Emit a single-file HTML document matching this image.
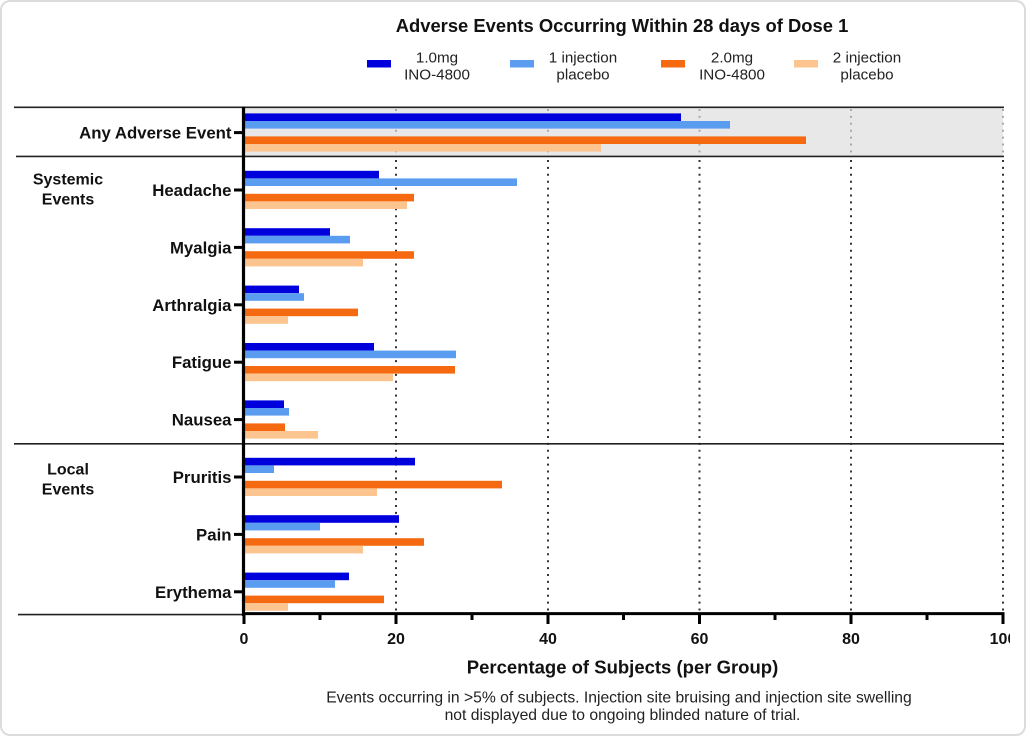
<!DOCTYPE html>
<html><head><meta charset="utf-8"><style>
html,body{margin:0;padding:0;background:#fff;}
svg{display:block;}
text{font-family:"Liberation Sans",Arial,sans-serif;}
</style></head><body>
<svg width="1029" height="738" viewBox="0 0 1029 738" xmlns="http://www.w3.org/2000/svg">
<defs><clipPath id="clipr"><rect x="0" y="0" width="1010" height="738"/></clipPath></defs>
<rect x="0" y="0" width="1029" height="738" fill="#fff"/>
<rect x="1" y="1" width="1024" height="734" rx="9" fill="#fff" stroke="#dcdcdc" stroke-width="2"/>

<!-- title -->
<text x="622" y="32" font-size="18.4" font-weight="bold" text-anchor="middle" fill="#111">Adverse Events Occurring Within 28 days of Dose 1</text>

<!-- legend -->
<rect x="367" y="60" width="24" height="7.5" fill="#0000dd"/>
<text x="437" y="62.5" font-size="15.2" text-anchor="middle" fill="#222">1.0mg</text>
<text x="437" y="79.5" font-size="15.2" text-anchor="middle" fill="#222">INO-4800</text>
<rect x="510" y="60" width="24" height="7.5" fill="#5a9cf0"/>
<text x="583" y="62.5" font-size="15.2" text-anchor="middle" fill="#222">1 injection</text>
<text x="583" y="79.5" font-size="15.2" text-anchor="middle" fill="#222">placebo</text>
<rect x="661" y="60" width="24" height="7.5" fill="#f56a10"/>
<text x="732" y="62.5" font-size="15.2" text-anchor="middle" fill="#222">2.0mg</text>
<text x="732" y="79.5" font-size="15.2" text-anchor="middle" fill="#222">INO-4800</text>
<rect x="794" y="60" width="24" height="7.5" fill="#fcc48e"/>
<text x="867" y="62.5" font-size="15.2" text-anchor="middle" fill="#222">2 injection</text>
<text x="867" y="79.5" font-size="15.2" text-anchor="middle" fill="#222">placebo</text>

<!-- gray band -->
<rect x="245" y="108" width="758" height="47.5" fill="#e8e8e8"/>

<!-- gridlines -->
<g stroke-width="2" stroke-dasharray="2 4.9" fill="none">
  <g stroke="#aaa">
    <line x1="396" y1="109" x2="396" y2="155"/>
    <line x1="548" y1="109" x2="548" y2="155"/>
    <line x1="699.5" y1="109" x2="699.5" y2="155"/>
    <line x1="851" y1="109" x2="851" y2="155"/>
    <line x1="1003" y1="109" x2="1003" y2="155"/>
  </g>
  <g stroke="#333">
    <line x1="396" y1="160" x2="396" y2="612"/>
    <line x1="548" y1="160" x2="548" y2="612"/>
    <line x1="699.5" y1="160" x2="699.5" y2="612"/>
    <line x1="851" y1="160" x2="851" y2="612"/>
    <line x1="1003" y1="160" x2="1003" y2="612"/>
  </g>
</g>

<!-- bars -->
<g>
  <!-- Any c=132.6 -->
  <rect x="245" y="113.4" width="436" height="7.6" fill="#0000dd"/>
  <rect x="245" y="121" width="485" height="7.6" fill="#5a9cf0"/>
  <rect x="245" y="136.4" width="561" height="7.6" fill="#f56a10"/>
  <rect x="245" y="144" width="356" height="7.6" fill="#fcc48e"/>
  <!-- Headache c=190 -->
  <rect x="245" y="170.8" width="134" height="7.6" fill="#0000dd"/>
  <rect x="245" y="178.4" width="272" height="7.6" fill="#5a9cf0"/>
  <rect x="245" y="193.8" width="169" height="7.6" fill="#f56a10"/>
  <rect x="245" y="201.4" width="162" height="7.6" fill="#fcc48e"/>
  <!-- Myalgia c=247.4 -->
  <rect x="245" y="228.2" width="85" height="7.6" fill="#0000dd"/>
  <rect x="245" y="235.8" width="105" height="7.6" fill="#5a9cf0"/>
  <rect x="245" y="251.2" width="169" height="7.6" fill="#f56a10"/>
  <rect x="245" y="258.8" width="118" height="7.6" fill="#fcc48e"/>
  <!-- Arthralgia c=304.8 -->
  <rect x="245" y="285.6" width="54" height="7.6" fill="#0000dd"/>
  <rect x="245" y="293.2" width="59" height="7.6" fill="#5a9cf0"/>
  <rect x="245" y="308.6" width="113" height="7.6" fill="#f56a10"/>
  <rect x="245" y="316.2" width="43" height="7.6" fill="#fcc48e"/>
  <!-- Fatigue c=362.2 -->
  <rect x="245" y="343" width="129" height="7.6" fill="#0000dd"/>
  <rect x="245" y="350.6" width="211" height="7.6" fill="#5a9cf0"/>
  <rect x="245" y="366" width="210" height="7.6" fill="#f56a10"/>
  <rect x="245" y="373.6" width="148" height="7.6" fill="#fcc48e"/>
  <!-- Nausea c=419.6 -->
  <rect x="245" y="400.4" width="39" height="7.6" fill="#0000dd"/>
  <rect x="245" y="408" width="44" height="7.6" fill="#5a9cf0"/>
  <rect x="245" y="423.4" width="40" height="7.6" fill="#f56a10"/>
  <rect x="245" y="431" width="73" height="7.6" fill="#fcc48e"/>
  <!-- Pruritis c=477 -->
  <rect x="245" y="457.8" width="170" height="7.6" fill="#0000dd"/>
  <rect x="245" y="465.4" width="29" height="7.6" fill="#5a9cf0"/>
  <rect x="245" y="480.8" width="257" height="7.6" fill="#f56a10"/>
  <rect x="245" y="488.4" width="132" height="7.6" fill="#fcc48e"/>
  <!-- Pain c=534.4 -->
  <rect x="245" y="515.2" width="154" height="7.6" fill="#0000dd"/>
  <rect x="245" y="522.8" width="75" height="7.6" fill="#5a9cf0"/>
  <rect x="245" y="538.2" width="179" height="7.6" fill="#f56a10"/>
  <rect x="245" y="545.8" width="118" height="7.6" fill="#fcc48e"/>
  <!-- Erythema c=591.8 -->
  <rect x="245" y="572.6" width="104" height="7.6" fill="#0000dd"/>
  <rect x="245" y="580.2" width="90" height="7.6" fill="#5a9cf0"/>
  <rect x="245" y="595.6" width="139" height="7.6" fill="#f56a10"/>
  <rect x="245" y="603.2" width="43" height="7.6" fill="#fcc48e"/>
</g>

<!-- horizontal separators -->
<g stroke="#222" stroke-width="1.6">
  <line x1="14" y1="107.3" x2="1004" y2="107.3"/>
  <line x1="16" y1="156.4" x2="1004" y2="156.4"/>
  <line x1="14" y1="443.8" x2="1004" y2="443.8"/>
  <line x1="18" y1="614.6" x2="244" y2="614.6"/>
</g>

<!-- axes -->
<line x1="243.5" y1="106.5" x2="243.5" y2="616" stroke="#000" stroke-width="3.2"/>
<line x1="242" y1="613.6" x2="1004.5" y2="613.6" stroke="#000" stroke-width="3"/>

<!-- y ticks -->
<g stroke="#000" stroke-width="3">
  <line x1="234" y1="132.6" x2="243" y2="132.6"/>
  <line x1="234" y1="190" x2="243" y2="190"/>
  <line x1="234" y1="247.4" x2="243" y2="247.4"/>
  <line x1="234" y1="304.8" x2="243" y2="304.8"/>
  <line x1="234" y1="362.2" x2="243" y2="362.2"/>
  <line x1="234" y1="419.6" x2="243" y2="419.6"/>
  <line x1="234" y1="477" x2="243" y2="477"/>
  <line x1="234" y1="534.4" x2="243" y2="534.4"/>
  <line x1="234" y1="591.8" x2="243" y2="591.8"/>
</g>

<!-- x ticks -->
<g stroke="#000" stroke-width="3">
  <line x1="244" y1="613" x2="244" y2="624"/>
  <line x1="396" y1="613" x2="396" y2="624"/>
  <line x1="548" y1="613" x2="548" y2="624"/>
  <line x1="699.5" y1="613" x2="699.5" y2="624"/>
  <line x1="851" y1="613" x2="851" y2="624"/>
  <line x1="1003" y1="613" x2="1003" y2="624"/>
  <line x1="320" y1="613" x2="320" y2="620"/>
  <line x1="472" y1="613" x2="472" y2="620"/>
  <line x1="623.5" y1="613" x2="623.5" y2="620"/>
  <line x1="775" y1="613" x2="775" y2="620"/>
  <line x1="927" y1="613" x2="927" y2="620"/>
</g>

<!-- x tick labels -->
<g font-size="16" font-weight="bold" text-anchor="middle" fill="#111">
  <text x="244" y="644">0</text>
  <text x="396" y="644">20</text>
  <text x="548" y="644">40</text>
  <text x="699.5" y="644">60</text>
  <text x="851" y="644">80</text>
  <text x="1003" y="644" clip-path="url(#clipr)">100</text>
</g>

<!-- y labels -->
<g font-size="16.8" font-weight="bold" text-anchor="end" fill="#111">
  <text x="231.5" y="138.6">Any Adverse Event</text>
  <text x="231.5" y="196">Headache</text>
  <text x="231.5" y="253.4">Myalgia</text>
  <text x="231.5" y="310.8">Arthralgia</text>
  <text x="231.5" y="368.2">Fatigue</text>
  <text x="231.5" y="425.6">Nausea</text>
  <text x="231.5" y="483">Pruritis</text>
  <text x="231.5" y="540.4">Pain</text>
  <text x="231.5" y="597.8">Erythema</text>
</g>
<g font-size="16" font-weight="bold" text-anchor="middle" fill="#111">
  <text x="68" y="184.3">Systemic</text>
  <text x="68" y="204.3">Events</text>
  <text x="68" y="474.3">Local</text>
  <text x="68" y="494.3">Events</text>
</g>

<!-- axis title -->
<text x="622.5" y="673.5" font-size="18.5" font-weight="bold" text-anchor="middle" fill="#111">Percentage of Subjects (per Group)</text>

<!-- footnote -->
<text x="619" y="702.5" font-size="15.7" text-anchor="middle" fill="#222">Events occurring in &gt;5% of subjects. Injection site bruising and injection site swelling</text>
<text x="622.5" y="720" font-size="15.7" text-anchor="middle" fill="#222">not displayed due to ongoing blinded nature of trial.</text>
</svg>
</body></html>
